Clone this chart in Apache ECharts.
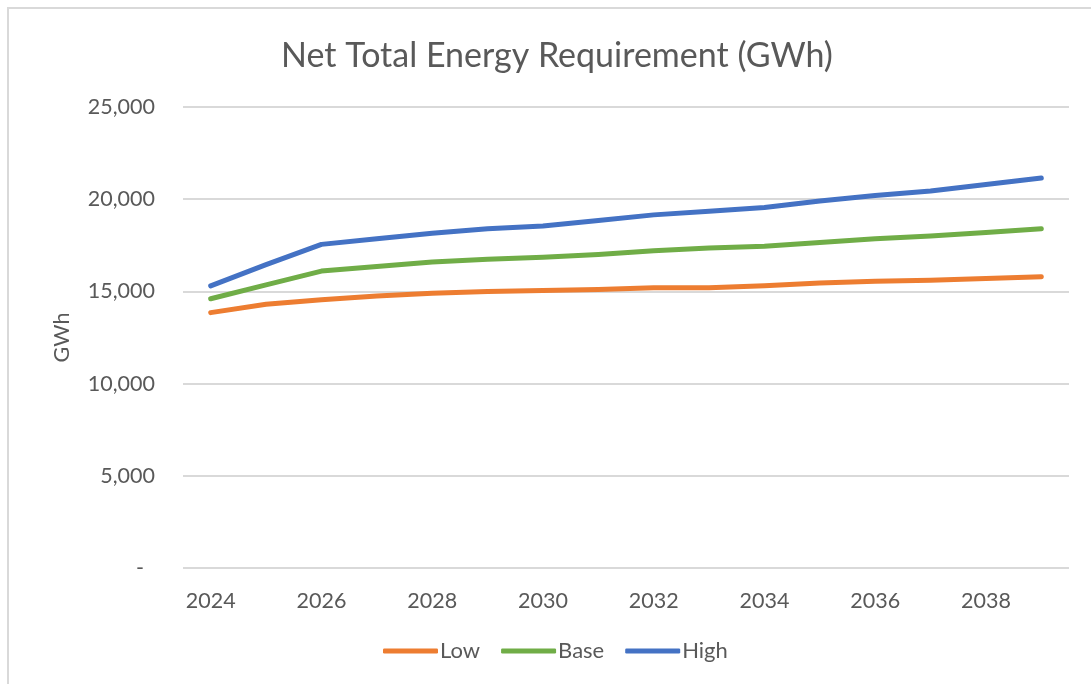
<!DOCTYPE html>
<html>
<head>
<meta charset="utf-8">
<script src="https://cdn.jsdelivr.net/npm/echarts@6/dist/echarts.min.js"></script>
<style>
html,body{margin:0;padding:0;background:#fff;}
#frame{position:absolute;left:7px;top:7px;width:1100px;height:700px;border:2px solid #d9d9d9;box-sizing:border-box;}
#chart{position:absolute;left:0;top:0;width:1091px;height:684px;}
</style>
</head>
<body>
<div id="frame"></div>
<div id="chart"></div>
<script>
const years = ['2024','2025','2026','2027','2028','2029','2030','2031','2032','2033','2034','2035','2036','2037','2038','2039'];
const lowValues  = [13850, 14300, 14550, 14750, 14900, 15000, 15050, 15100, 15200, 15200, 15300, 15450, 15550, 15600, 15700, 15800];
const baseValues = [14600, 15350, 16100, 16350, 16600, 16750, 16850, 17000, 17200, 17350, 17450, 17650, 17850, 18000, 18200, 18400];
const highValues = [15300, 16450, 17550, 17850, 18150, 18400, 18550, 18850, 19150, 19350, 19550, 19900, 20200, 20450, 20800, 21150];
const seriesNames = ['Low', 'Base', 'High'];
const seriesColors = ['#ED7D31', '#70AD47', '#4472C4'];

const FONT = 'Lato';
const TXT = '#595959';
const chart = echarts.init(document.getElementById('chart'), null, {renderer: 'canvas'});
const mk = (name, data, color) => ({
  name: name, type: 'line', data: data, symbol: 'none', smooth: false,
  lineStyle: {width: 5, color: color, cap: 'round', join: 'round'},
  itemStyle: {color: color}
});
chart.setOption({
  animation: false,
  backgroundColor: 'transparent',
  title: {
    text: 'Net Total Energy Requirement (GWh)',
    left: 552, textAlign: 'center', top: 34,
    textStyle: {fontFamily: FONT, fontSize: 34, fontWeight: 'normal', color: TXT}
  },
  legend: {
    data: seriesNames, bottom: 17, left: 378,
    icon: 'roundRect', itemWidth: 55, itemHeight: 5, itemGap: 21,
    textStyle: {fontFamily: FONT, fontSize: 22, color: TXT, padding: [0,0,0,-3]}
  },
  grid: {left: 183, right: 22, top: 107, bottom: 684 - 568, containLabel: false},
  xAxis: {
    type: 'category', data: years, boundaryGap: true,
    axisLine: {show: false}, axisTick: {show: false},
    axisLabel: {interval: 1, fontFamily: FONT, fontSize: 21.5, color: TXT, margin: 22}
  },
  yAxis: {
    type: 'value', min: 0, max: 25000, interval: 5000,
    name: 'GWh', nameLocation: 'middle', nameGap: 110,
    nameTextStyle: {fontFamily: FONT, fontSize: 21.5, color: TXT},
    axisLine: {show: false}, axisTick: {show: false},
    splitLine: {lineStyle: {color: '#d9d9d9', width: 1.8}},
    axisLabel: {
      fontFamily: FONT, fontSize: 21.5, color: TXT, margin: 28,
      formatter: v => v === 0 ? '-  ' : v.toLocaleString('en-US')
    }
  },
  series: [
    mk(seriesNames[0], lowValues, seriesColors[0]),
    mk(seriesNames[1], baseValues, seriesColors[1]),
    mk(seriesNames[2], highValues, seriesColors[2])
  ]
});
</script>
</body>
</html>
